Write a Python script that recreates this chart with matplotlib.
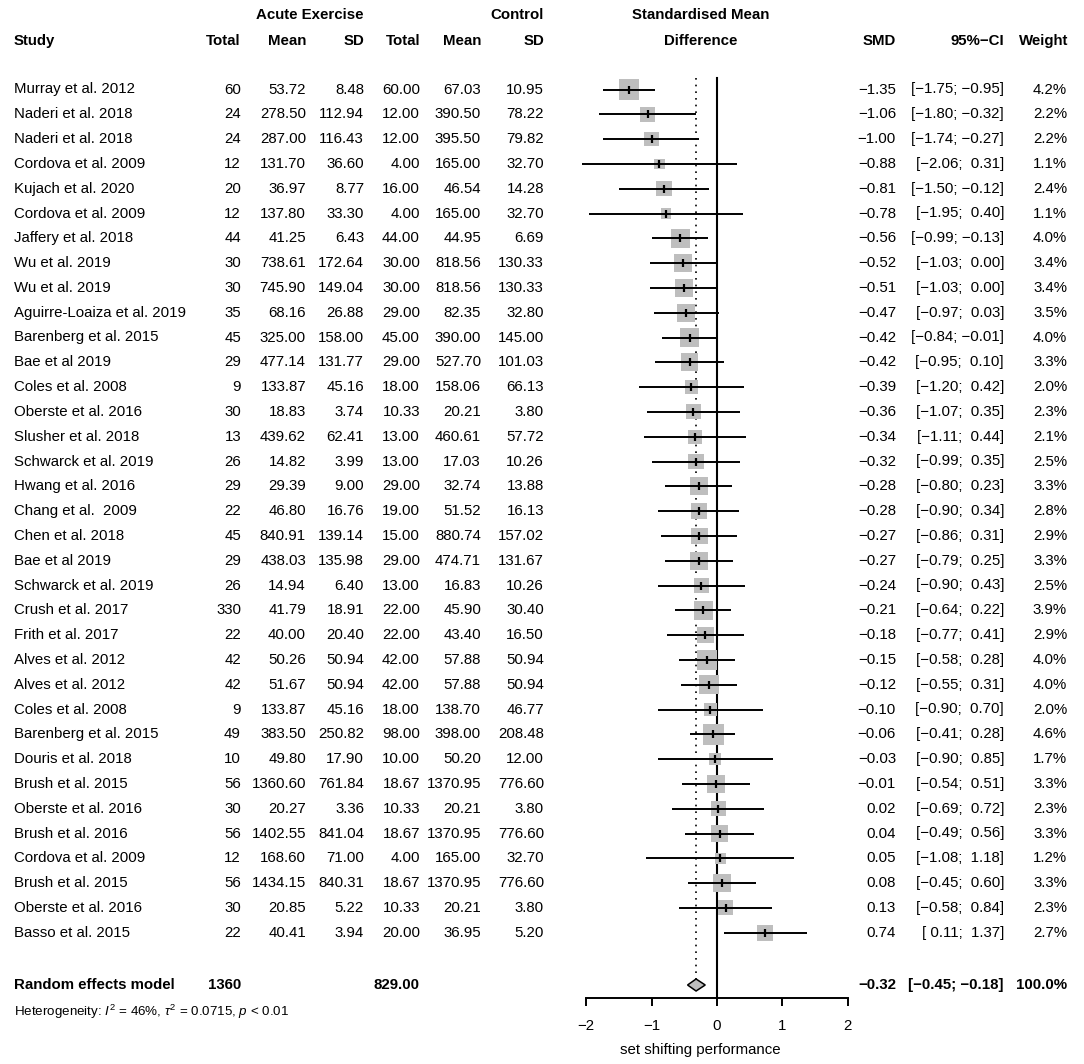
import numpy as np
import matplotlib
matplotlib.use("Agg")
import matplotlib.pyplot as plt

plt.rcParams['font.family'] = ['Liberation Sans', 'DejaVu Sans']
plt.rcParams['mathtext.fontset'] = 'custom'
plt.rcParams['mathtext.rm'] = 'Liberation Sans'
plt.rcParams['mathtext.it'] = 'Liberation Sans:italic'

studies = ["Murray et al. 2012", "Naderi et al. 2018", "Naderi et al. 2018", "Cordova et al. 2009",
           "Kujach et al. 2020", "Cordova et al. 2009", "Jaffery et al. 2018", "Wu et al. 2019",
           "Wu et al. 2019", "Aguirre-Loaiza et al. 2019", "Barenberg et al. 2015", "Bae et al 2019",
           "Coles et al. 2008", "Oberste et al. 2016", "Slusher et al. 2018", "Schwarck et al. 2019",
           "Hwang et al. 2016", "Chang et al.  2009", "Chen et al. 2018", "Bae et al 2019",
           "Schwarck et al. 2019", "Crush et al. 2017", "Frith et al. 2017", "Alves et al. 2012",
           "Alves et al. 2012", "Coles et al. 2008", "Barenberg et al. 2015", "Douris et al. 2018",
           "Brush et al. 2015", "Oberste et al. 2016", "Brush et al. 2016", "Cordova et al. 2009",
           "Brush et al. 2015", "Oberste et al. 2016", "Basso et al. 2015"]
exp_total = [60, 24, 24, 12, 20, 12, 44, 30, 30, 35, 45, 29, 9, 30, 13, 26, 29, 22, 45, 29,
             26, 330, 22, 42, 42, 9, 49, 10, 56, 30, 56, 12, 56, 30, 22]
exp_mean = [53.72, 278.50, 287.00, 131.70, 36.97, 137.80, 41.25, 738.61, 745.90, 68.16,
            325.00, 477.14, 133.87, 18.83, 439.62, 14.82, 29.39, 46.80, 840.91, 438.03,
            14.94, 41.79, 40.00, 50.26, 51.67, 133.87, 383.50, 49.80, 1360.60, 20.27,
            1402.55, 168.60, 1434.15, 20.85, 40.41]
exp_sd = [8.48, 112.94, 116.43, 36.60, 8.77, 33.30, 6.43, 172.64, 149.04, 26.88,
          158.00, 131.77, 45.16, 3.74, 62.41, 3.99, 9.00, 16.76, 139.14, 135.98,
          6.40, 18.91, 20.40, 50.94, 50.94, 45.16, 250.82, 17.90, 761.84, 3.36,
          841.04, 71.00, 840.31, 5.22, 3.94]
ctl_total = [60.00, 12.00, 12.00, 4.00, 16.00, 4.00, 44.00, 30.00, 30.00, 29.00,
             45.00, 29.00, 18.00, 10.33, 13.00, 13.00, 29.00, 19.00, 15.00, 29.00,
             13.00, 22.00, 22.00, 42.00, 42.00, 18.00, 98.00, 10.00, 18.67, 10.33,
             18.67, 4.00, 18.67, 10.33, 20.00]
ctl_mean = [67.03, 390.50, 395.50, 165.00, 46.54, 165.00, 44.95, 818.56, 818.56, 82.35,
            390.00, 527.70, 158.06, 20.21, 460.61, 17.03, 32.74, 51.52, 880.74, 474.71,
            16.83, 45.90, 43.40, 57.88, 57.88, 138.70, 398.00, 50.20, 1370.95, 20.21,
            1370.95, 165.00, 1370.95, 20.21, 36.95]
ctl_sd = [10.95, 78.22, 79.82, 32.70, 14.28, 32.70, 6.69, 130.33, 130.33, 32.80,
          145.00, 101.03, 66.13, 3.80, 57.72, 10.26, 13.88, 16.13, 157.02, 131.67,
          10.26, 30.40, 16.50, 50.94, 50.94, 46.77, 208.48, 12.00, 776.60, 3.80,
          776.60, 32.70, 776.60, 3.80, 5.20]
smd = [-1.35, -1.06, -1.00, -0.88, -0.81, -0.78, -0.56, -0.52, -0.51, -0.47,
       -0.42, -0.42, -0.39, -0.36, -0.34, -0.32, -0.28, -0.28, -0.27, -0.27,
       -0.24, -0.21, -0.18, -0.15, -0.12, -0.10, -0.06, -0.03, -0.01, 0.02,
       0.04, 0.05, 0.08, 0.13, 0.74]
ci_lo = [-1.75, -1.80, -1.74, -2.06, -1.50, -1.95, -0.99, -1.03, -1.03, -0.97,
         -0.84, -0.95, -1.20, -1.07, -1.11, -0.99, -0.80, -0.90, -0.86, -0.79,
         -0.90, -0.64, -0.77, -0.58, -0.55, -0.90, -0.41, -0.90, -0.54, -0.69,
         -0.49, -1.08, -0.45, -0.58, 0.11]
ci_hi = [-0.95, -0.32, -0.27, 0.31, -0.12, 0.40, -0.13, 0.00, 0.00, 0.03,
         -0.01, 0.10, 0.42, 0.35, 0.44, 0.35, 0.23, 0.34, 0.31, 0.25,
         0.43, 0.22, 0.41, 0.28, 0.31, 0.70, 0.28, 0.85, 0.51, 0.72,
         0.56, 1.18, 0.60, 0.84, 1.37]
weight = [4.2, 2.2, 2.2, 1.1, 2.4, 1.1, 4.0, 3.4, 3.4, 3.5, 4.0, 3.3, 2.0, 2.3, 2.1, 2.5,
          3.3, 2.8, 2.9, 3.3, 2.5, 3.9, 2.9, 4.0, 4.0, 2.0, 4.6, 1.7, 3.3, 2.3, 3.3, 1.2,
          3.3, 2.3, 2.7]

re_exp_total = 1360
re_ctl_total = 829.00
re_smd, re_lo, re_hi = -0.32, -0.45, -0.18
heterogeneity = r"Heterogeneity: $I^2$ = 46%, $\tau^2$ = 0.0715, $p$ < 0.01"
xlab = "set shifting performance"
ticks = [-2, -1, 0, 1, 2]


def fmt(v):
    return f"{v:5.2f}".replace("-", "\u2212")


def ci_txt(lo, hi):
    return "[" + fmt(lo) + "; " + fmt(hi) + "]"


W, H = 1084, 1064
fig = plt.figure(figsize=(W / 100, H / 100), dpi=100)

# table text axis, pixel units
tab = fig.add_axes([0, 0, 1, 1])
tab.set_xlim(0, W)
tab.set_ylim(H, 0)
tab.axis('off')

# forest axis: x in SMD units, y in pixel units
ppu = 65.4
zero_px = 717
fax = fig.add_axes([0, 0, 1, 1], facecolor='none')
fax.set_xlim(-zero_px / ppu, (W - zero_px) / ppu)
fax.set_ylim(H, 0)

fs = 10.8
row0, step = 89.5, 24.8
rows = row0 + step * np.arange(len(studies))
re_y = 985

# headers
tab.text(364, 15, "Acute Exercise", ha='right', va='center', fontsize=fs, fontweight='bold')
tab.text(544, 15, "Control", ha='right', va='center', fontsize=fs, fontweight='bold')
tab.text(701, 15, "Standardised Mean", ha='center', va='center', fontsize=fs, fontweight='bold')
hdr = [(14, "Study", 'left'), (241, "Total", 'right'), (306, "Mean", 'right'), (364, "SD", 'right'),
       (420, "Total", 'right'), (481, "Mean", 'right'), (544, "SD", 'right'),
       (701, "Difference", 'center'), (896, "SMD", 'right'), (1004, "95%\u2212CI", 'right'),
       (1068, "Weight", 'right')]
for x, s, ha in hdr:
    tab.text(x, 41, s, ha=ha, va='center', fontsize=fs, fontweight='bold')

# study rows
for i, y in enumerate(rows):
    tab.text(14, y, studies[i], ha='left', va='center', fontsize=fs)
    tab.text(241, y, f"{exp_total[i]}", ha='right', va='center', fontsize=fs)
    tab.text(306, y, f"{exp_mean[i]:.2f}", ha='right', va='center', fontsize=fs)
    tab.text(364, y, f"{exp_sd[i]:.2f}", ha='right', va='center', fontsize=fs)
    tab.text(420, y, f"{ctl_total[i]:.2f}", ha='right', va='center', fontsize=fs)
    tab.text(481, y, f"{ctl_mean[i]:.2f}", ha='right', va='center', fontsize=fs)
    tab.text(544, y, f"{ctl_sd[i]:.2f}", ha='right', va='center', fontsize=fs)
    tab.text(896, y, fmt(smd[i]).strip(), ha='right', va='center', fontsize=fs)
    tab.text(1004, y, ci_txt(ci_lo[i], ci_hi[i]), ha='right', va='center', fontsize=fs)
    tab.text(1067, y, f"{weight[i]:.1f}%", ha='right', va='center', fontsize=fs)

# summary row
tab.text(14, re_y, "Random effects model", ha='left', va='center', fontsize=fs, fontweight='bold')
tab.text(241, re_y, f"{re_exp_total}", ha='right', va='center', fontsize=fs, fontweight='bold')
tab.text(420, re_y, f"{re_ctl_total:.2f}", ha='right', va='center', fontsize=fs, fontweight='bold')
tab.text(896, re_y, fmt(re_smd).strip(), ha='right', va='center', fontsize=fs, fontweight='bold')
tab.text(1004, re_y, ci_txt(re_lo, re_hi), ha='right', va='center', fontsize=fs, fontweight='bold')
tab.text(1067, re_y, "100.0%", ha='right', va='center', fontsize=fs, fontweight='bold')
tab.text(14, 1012, heterogeneity, ha='left', va='center', fontsize=9.6)

# reference lines
top = rows[0] - 12
fax.plot([0, 0], [top, 998], color='black', lw=1.5, zorder=1)
fax.plot([re_smd, re_smd], [top, re_y - 6], color='black', lw=1.2, ls=(0, (1, 3)), zorder=1)

# boxes, CIs, point marks
side_px = 9.76 * np.sqrt(np.array(weight))
fax.scatter(smd, rows, marker='s', s=(side_px * 0.72) ** 2, color='#bebebe',
            edgecolors='none', zorder=2)
fax.hlines(rows, ci_lo, ci_hi, color='black', lw=1.4, zorder=3)
fax.scatter(smd, rows, marker='|', s=(8 * 0.72) ** 2, color='black', linewidths=1.6, zorder=4)

# summary diamond
fax.fill([re_lo, re_smd, re_hi, re_smd], [re_y, re_y - 6, re_y, re_y + 6],
         facecolor='#bebebe', edgecolor='black', lw=1.1, zorder=3)

# x axis
for side in ['top', 'left', 'right']:
    fax.spines[side].set_visible(False)
fax.spines['bottom'].set_position(('data', 998))
fax.spines['bottom'].set_bounds(-2, 2)
fax.spines['bottom'].set_linewidth(1.4)
fax.set_xticks(ticks)
fax.set_xticklabels([str(t).replace("-", "\u2212") for t in ticks])
fax.tick_params(axis='x', length=6, width=1.4, pad=9, labelsize=fs)
fax.set_yticks([])
fax.text(-0.25, 1050, xlab, ha='center', va='center', fontsize=fs)

fig.savefig("out.png", dpi=100)
